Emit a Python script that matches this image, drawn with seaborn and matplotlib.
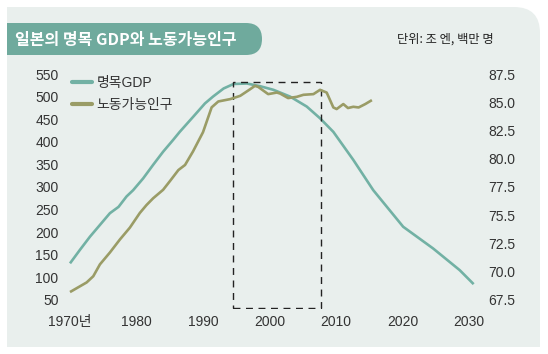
import numpy as np
import pandas as pd
import matplotlib
matplotlib.use("Agg")
import matplotlib.pyplot as plt
import seaborn as sns
from matplotlib.path import Path
from matplotlib.patches import PathPatch, Rectangle
from matplotlib.lines import Line2D

# Data
gdp_years = [1970, 1971.5, 1973, 1974.5, 1976, 1977.3, 1978.5, 1979.5, 1981, 1982.5,
             1984, 1985.5, 1986.5, 1988.5, 1990.3, 1991.5, 1993.1, 1994.6, 1996.6,
             1998.6, 2000.6, 2003.1, 2005.6, 2007.6, 2009.6, 2012.6, 2015.6, 2020.1,
             2024.6, 2028.6, 2030.7]
gdp_values = [131, 161, 190, 216, 242, 256, 279, 293, 319, 349,
              378, 404, 422, 455, 485, 500, 518, 528, 529,
              523, 515, 500, 478, 452, 422, 360, 293, 212,
              164, 116, 85]

labor_years = [1970, 1972.5, 1973.5, 1974.5, 1976, 1977.5, 1979, 1980.5, 1981.5, 1982.5,
               1984, 1985, 1986.3, 1987.3, 1988.5, 1990, 1991.3, 1992.3, 1994.1, 1995.6,
               1997.1, 1997.8, 1998.3, 1999.8, 2001.1, 2001.6, 2002.8, 2004.1, 2005.1,
               2006.6, 2007.6, 2008.6, 2009.6, 2010.1, 2011.1, 2011.8, 2012.6, 2013.4,
               2014.4, 2015.4]
labor_values = [68.2, 69.05, 69.6, 70.65, 71.7, 72.85, 73.9, 75.2, 75.9, 76.5,
                77.25, 78.0, 79.0, 79.45, 80.65, 82.35, 84.55, 85.07, 85.28, 85.57,
                86.16, 86.45, 86.36, 85.72, 85.86, 85.77, 85.37, 85.48, 85.66,
                85.72, 86.1, 85.86, 84.54, 84.4, 84.84, 84.49, 84.6, 84.54,
                84.84, 85.19]

x_ticks = [1970, 1980, 1990, 2000, 2010, 2020, 2030]
x_labels = ["1970년", "1980", "1990", "2000", "2010", "2020", "2030"]
left_ticks = [50, 100, 150, 200, 250, 300, 350, 400, 450, 500, 550]
right_ticks = [67.5, 70.0, 72.5, 75.0, 77.5, 80.0, 82.5, 85.0, 87.5]
right_labels = ["67.5", "70.0", "72.5", "75.5", "77.5", "80.0", "82.5", "85.0", "87.5"]

box_years = [1994.5, 2007.7]
box_values = [32, 532]

title = "일본의 명목 GDP와 노동가능인구"
unit_text = "단위: 조 엔, 백만 명"
series_names = ["명목GDP", "노동가능인구"]

# Colours
bg_color = "#e9efed"
title_color = "#6faa9d"
teal = "#72b1a4"
olive = "#9a9c66"
text_color = "#333333"

sns.set_theme(style="white")
plt.rcParams["font.family"] = ["Liberation Sans", "Noto Sans CJK KR", "DejaVu Sans"]

W, H = 548, 354
fig = plt.figure(figsize=(W / 100, H / 100), dpi=100)
fig.patch.set_facecolor("white")

# Background panel and title tag, drawn in pixel coordinates
bg = fig.add_axes([0, 0, 1, 1], zorder=0)
bg.set_xlim(0, W)
bg.set_ylim(H, 0)
bg.axis("off")

r = 26
panel = Path(
    [(7, 7), (540 - r, 7), (540, 7), (540, 7 + r), (540, 347), (7, 347), (7, 7)],
    [Path.MOVETO, Path.LINETO, Path.CURVE3, Path.CURVE3, Path.LINETO, Path.LINETO, Path.CLOSEPOLY],
)
bg.add_patch(PathPatch(panel, facecolor=bg_color, edgecolor="none"))

r2 = 16
tag = Path(
    [(7, 23), (262 - r2, 23), (262, 23), (262, 39), (262, 55), (262 - r2, 55), (7, 55), (7, 23)],
    [Path.MOVETO, Path.LINETO, Path.CURVE3, Path.CURVE3, Path.CURVE3, Path.CURVE3, Path.LINETO, Path.CLOSEPOLY],
)
bg.add_patch(PathPatch(tag, facecolor=title_color, edgecolor="none"))
bg.text(15, 39.5, title, color="white", fontsize=11.5, fontweight="bold",
        ha="left", va="center", family=["Noto Sans CJK KR", "DejaVu Sans"])
bg.text(494, 39.5, unit_text, color="#222222", fontsize=8.8, ha="right", va="center",
        family=["Noto Sans CJK KR", "DejaVu Sans"])

# Main axes
ax = fig.add_axes([60 / W, (H - 309) / H, 420 / W, (309 - 69.5) / H], zorder=1)
ax.patch.set_visible(False)
ax2 = ax.twinx()

gdp_df = pd.DataFrame({"year": gdp_years, "value": gdp_values})
labor_df = pd.DataFrame({"year": labor_years, "value": labor_values})

sns.lineplot(data=gdp_df, x="year", y="value", ax=ax, color=teal, linewidth=1.9,
             solid_capstyle="butt", solid_joinstyle="round")
sns.lineplot(data=labor_df, x="year", y="value", ax=ax2, color=olive, linewidth=1.9,
             solid_capstyle="butt", solid_joinstyle="round")

ax.add_patch(Rectangle((box_years[0], box_values[0]), box_years[1] - box_years[0],
                       box_values[1] - box_values[0], fill=False, edgecolor="#222222",
                       linewidth=1.0, linestyle=(0, (5, 4)), zorder=3))

ylo, yhi = 30, 560
ax.set_ylim(ylo, yhi)
ax2.set_ylim(67.5 + (ylo - 50) * 0.04, 67.5 + (yhi - 50) * 0.04)
ax.set_xlim(1970 - 10 / 6.65, 2030 + 11 / 6.65)

ax.set_xticks(x_ticks)
ax.set_xticklabels(x_labels)
ax.set_yticks(left_ticks)
ax.set_yticklabels([str(v) for v in left_ticks])
ax2.set_yticks(right_ticks)
ax2.set_yticklabels(right_labels)

for a in (ax, ax2):
    a.set_xlabel("")
    a.set_ylabel("")
    for s in a.spines.values():
        s.set_visible(False)
    a.grid(False)
ax.tick_params(axis="x", length=0, pad=4, labelsize=10, labelcolor=text_color)
ax.tick_params(axis="y", length=0, pad=1, labelsize=10, labelcolor=text_color)
ax2.tick_params(axis="y", length=0, pad=6, labelsize=10, labelcolor=text_color)

handles = [Line2D([0], [0], color=teal, linewidth=3),
           Line2D([0], [0], color=olive, linewidth=3)]
leg = ax2.legend(handles, series_names, loc="upper left",
                 bbox_to_anchor=(72 / W, 1 - 76 / H), bbox_transform=fig.transFigure,
                 frameon=False, borderpad=0, borderaxespad=0, handlelength=1.45,
                 handletextpad=0.3, labelspacing=0.6, fontsize=10)
for t in leg.get_texts():
    t.set_color(text_color)

fig.savefig("out.png", dpi=100)
